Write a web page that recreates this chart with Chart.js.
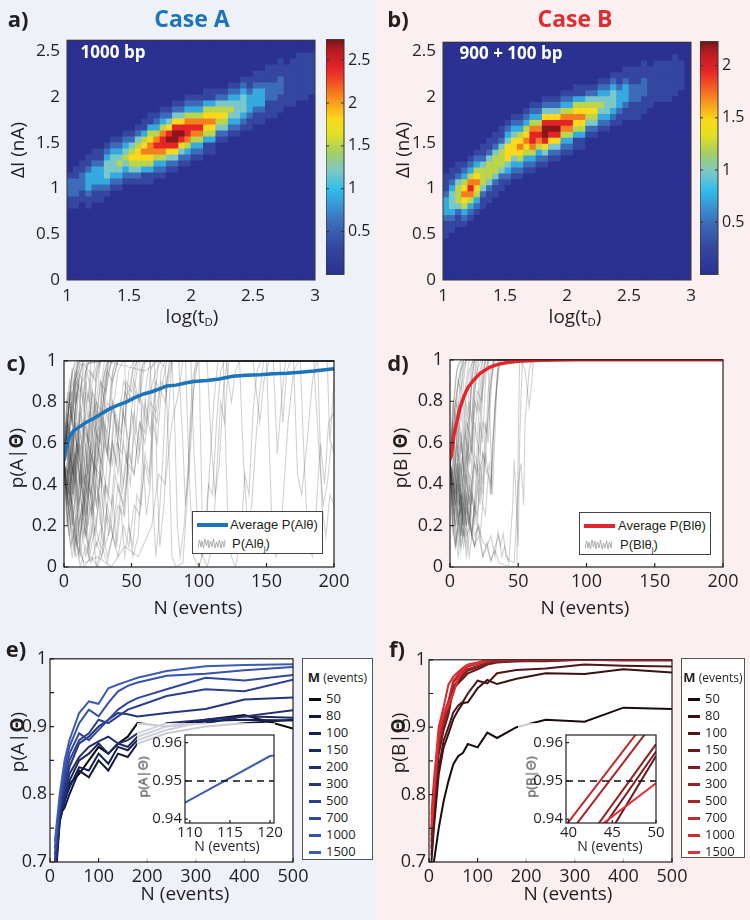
<!DOCTYPE html>
<html lang="en">
<head>
<meta charset="UTF-8">
<meta name="viewport" content="width=device-width, initial-scale=1.0">
<title>Case A vs Case B</title>
<script src="https://cdn.jsdelivr.net/npm/chart.js"></script>
<style>
  html, body { margin: 0; padding: 0; }
  #fig { position: relative; width: 750px; height: 920px; overflow: hidden;
         font-family: 'Open Sans', sans-serif; color: #231f20; }
  .half { position: absolute; top: 0; height: 920px; }
  .t { position: absolute; white-space: nowrap; transform: translate(-50%, -50%); z-index: 5; line-height: 1; }
  .r { transform: translate(-50%, -50%) rotate(-90deg); }
  .tag { font-weight: 700; font-size: 22px; }
  .ttl { font-size: 19px; }
  .leg { position: absolute; box-sizing: border-box; background: #fff; border: 1px solid #444; z-index: 5;
         overflow: hidden; font-family: 'Liberation Sans', Arial, sans-serif; font-size: 13px; }
  .leg div, .leg svg { position: absolute; white-space: nowrap; line-height: 1; }
  .mleg { position: absolute; box-sizing: border-box; background: #fff; border: 1px solid #555; z-index: 5; }
  .mt { position: absolute; left: 0; right: 0; top: 11px; text-align: center; font-size: 12px; line-height: 14px; white-space: nowrap; }
  .mr { position: absolute; left: 6px; height: 16px; line-height: 16px; font-size: 13px; }
  .mr span { display: inline-block; width: 12px; height: 3px; vertical-align: middle; margin-right: 5px; }
  sub { font-size: 0.6em; vertical-align: -0.35em; line-height: 0; }
</style>
</head>
<body>
<div id="fig">
  <div class="half" style="left:0;width:376px;background:#eef1f8"></div>
  <div class="half" style="left:376px;width:374px;background:#fcefef"></div>

  <!-- panel tags and titles -->
  <div class="t tag" style="left:18px;top:18px">a)</div>
  <div class="t tag" style="left:192px;top:18px;color:#1b75bc;font-size:23px">Case A</div>
  <div class="t tag" style="left:398px;top:18px">b)</div>
  <div class="t tag" style="left:575px;top:18px;color:#e22b31;font-size:23px">Case B</div>
  <div class="t tag" style="left:16px;top:362px">c)</div>
  <div class="t tag" style="left:398px;top:362px">d)</div>
  <div class="t tag" style="left:16px;top:648px">e)</div>
  <div class="t tag" style="left:397px;top:648px">f)</div>

  <div class="t" style="left:113px;top:51px;color:#fff;font-weight:700;font-size:17px">1000 bp</div>
  <div class="t" style="left:511px;top:52px;color:#fff;font-weight:700;font-size:17px">900 + 100 bp</div>

  <!-- axis titles -->
  <div class="t ttl r" style="left:17px;top:150px">ΔI (nA)</div>
  <div class="t ttl r" style="left:402px;top:150px">ΔI (nA)</div>
  <div class="t ttl" style="left:192px;top:316px">log(t<sub>D</sub>)</div>
  <div class="t ttl" style="left:575px;top:316px">log(t<sub>D</sub>)</div>
  <div class="t ttl r" style="left:16px;top:458px">p(A|<b>Θ</b>)</div>
  <div class="t ttl r" style="left:400px;top:458px">p(B|<b>Θ</b>)</div>
  <div class="t ttl" style="left:198px;top:607px">N (events)</div>
  <div class="t ttl" style="left:585px;top:607px">N (events)</div>
  <div class="t ttl r" style="left:17px;top:742px">p(A|<b>Θ</b>)</div>
  <div class="t ttl r" style="left:398px;top:743px">p(B|<b>Θ</b>)</div>
  <div class="t ttl" style="left:185px;top:893px">N (events)</div>
  <div class="t ttl" style="left:568px;top:893px">N (events)</div>
  <div class="t r" style="left:143px;top:777px;font-size:13px">p(A|Θ)</div>
  <div class="t r" style="left:531px;top:777px;font-size:13px">p(B|Θ)</div>
  <div class="t" style="left:227px;top:846px;font-size:14px">N (events)</div>
  <div class="t" style="left:610px;top:846px;font-size:14px">N (events)</div>

  <!-- legends of c and d -->
  <div class="leg" style="left:192px;top:511px;width:131px;height:43px">
    <div style="left:4px;top:11px;width:31px;height:4px;background:#1b75bc"></div>
    <div style="left:37px;top:6px">Average P(Alθ)</div>
    <svg style="left:5px;top:26px" width="28" height="11"><polyline points="0,10 1.5,2 3,9 4,3 5.5,10 7,1 8.5,8 10,2 11,10 12.5,3 14,9 15.5,1 17,10 18.5,4 20,9 21.5,2 23,10 24.5,3 26,9 27,2" fill="none" stroke="#9a9a9a" stroke-width="0.8"/></svg>
    <div style="left:39px;top:25px">P(Alθ<sub>j</sub>)</div>
  </div>
  <div class="leg" style="left:579px;top:512px;width:132px;height:43px">
    <div style="left:4px;top:11px;width:31px;height:4px;background:#e3262d"></div>
    <div style="left:38px;top:6px">Average P(Blθ)</div>
    <svg style="left:5px;top:26px" width="28" height="11"><polyline points="0,10 1.5,2 3,9 4,3 5.5,10 7,1 8.5,8 10,2 11,10 12.5,3 14,9 15.5,1 17,10 18.5,4 20,9 21.5,2 23,10 24.5,3 26,9 27,2" fill="none" stroke="#9a9a9a" stroke-width="0.8"/></svg>
    <div style="left:40px;top:25px">P(Blθ<sub>j</sub>)</div>
  </div>
</div>

<script>
// ---- 2D histograms: one entry per log(tD) column (1 -> 3, 40 columns)
// [first ΔI row, level of each row going up], level 0-9
const heatA = [
  [12,"112221"], [12,"1122211"], [13,"1122211"], [12,"112333211"], [13,"112333211"],
  [13,"112333211"], [14,"123444321"], [15,"123444321"], [15,"123454321"], [16,"123454321"],
  [16,"124565421"], [16,"1245665421"], [16,"11356765311"], [16,"113567765311"], [17,"12357875321"],
  [17,"123578875321"], [18,"12468986421"], [18,"124689986421"], [19,"12468986421"], [19,"123578875321"],
  [20,"12357875321"], [20,"12357875321"], [21,"11356765311"], [21,"11356765311"], [23,"124565421"],
  [23,"124565421"], [24,"123454321"], [24,"123444321"], [25,"123444321"], [25,"112333211"],
  [26,"112333211"], [26,"112333211"], [27,"111222111"], [27,"111222111"], [28,"111222111"],
  [29,"1111111"], [29,"11111111"], [30,"11111111"], [30,"11111111"], [31,"1111111"]
];
const heatB = [
  [7,"11123332111"], [8,"11234443211"], [9,"11245554211"], [9,"12356765321"], [10,"12357875321"],
  [11,"12356765321"], [12,"11245554211"], [13,"11245554211"], [14,"11245554211"], [15,"11245554211"],
  [16,"12346664321"], [17,"12346664321"], [17,"12356765321"], [18,"12356765321"], [18,"123578875321"],
  [19,"12357875321"], [19,"124689986421"], [20,"12468986421"], [20,"12468986421"], [21,"12357875321"],
  [21,"12357875321"], [22,"11356765311"], [22,"11356765311"], [24,"124565421"], [24,"124565421"],
  [25,"123454321"], [25,"123444321"], [26,"123444321"], [26,"112333211"], [27,"112333211"],
  [27,"111222111"], [27,"111222111"], [28,"111222111"], [29,"1111111"], [30,"1111111"],
  [30,"1111111"], [30,"1111111"], [31,"1111111"], [32,"11111"], [0,""]
];
const levelStepA = 0.3, levelStepB = 0.245;
const cbarMaxA = 2.74, cbarMaxB = 2.23;
const yMaxA = 2.625, yMaxB = 2.6;

// ---- tick values
const ticksHeatX = [1, 1.5, 2, 2.5, 3];
const ticksHeatY = [0, 0.5, 1, 1.5, 2, 2.5];
const cbarTicksA = [0.5, 1, 1.5, 2, 2.5];
const cbarTicksB = [0.5, 1, 1.5, 2];
const ticksNX = [0, 50, 100, 150, 200];
const ticksPY = [0, 0.2, 0.4, 0.6, 0.8, 1];
const ticksEX = [0, 100, 200, 300, 400, 500];
const ticksEY = [0.7, 0.75, 0.8, 0.85, 0.9, 0.95, 1];
const labelsEY = ['0.7', '', '0.8', '', '0.9', '', '1'];
const insetTicksY = [0.94, 0.95, 0.96];
const insetTicksXA = [110, 115, 120];
const insetTicksXB = [40, 45, 50];
const threshold = 0.95;

// ---- c / d : average posterior
const avgAx = [0, 1, 2, 4, 7, 12, 16, 22, 28, 34, 40, 46, 52, 59, 65, 70, 76, 83, 90, 96, 106, 115, 125, 135, 145, 155, 165, 175, 185, 195, 200];
const avgAy = [0.52, 0.56, 0.59, 0.63, 0.66, 0.682, 0.70, 0.72, 0.745, 0.768, 0.785, 0.80, 0.82, 0.839, 0.85, 0.862, 0.878, 0.882, 0.892, 0.90, 0.905, 0.912, 0.925, 0.93, 0.932, 0.937, 0.94, 0.945, 0.95, 0.958, 0.962];
const avgBx = [0, 1, 2, 3, 5, 7, 10, 13, 17, 22, 29, 35, 42, 50, 66, 90, 200];
const avgBy = [0.52, 0.54, 0.59, 0.64, 0.70, 0.76, 0.82, 0.865, 0.90, 0.935, 0.964, 0.978, 0.987, 0.993, 0.998, 1, 1];

// ---- c / d : single runs, flat [N, p, N, p, ...]
const trajA = [
  [0,.5, 2,.7, 4,.62, 6,.85, 8,.8, 10,.95, 14,.9, 18,.99, 30,1, 200,1],
  [0,.5, 2,.35, 4,.45, 6,.2, 8,.3, 10,.1, 13,.2, 16,.05, 20,.15, 24,.4, 27,.3, 30,.7, 33,.6, 36,.9, 40,1, 200,1],
  [0,.5, 3,.6, 5,.4, 8,.55, 11,.3, 14,.45, 17,.25, 20,.5, 23,.7, 26,.55, 29,.8, 32,.95, 36,.9, 40,1, 200,1],
  [0,.5, 2,.8, 4,.9, 6,.75, 8,.95, 11,1, 120,1, 124,.8, 127,.95, 130,1, 200,1],
  [0,.5, 3,.3, 6,.15, 9,.05, 12,.1, 15,0, 20,.05, 25,0, 30,.1, 35,.2, 38,.1, 42,.35, 45,.25, 48,.6, 50,.5, 53,.85, 56,.8, 58,.98, 62,1, 200,1],
  [0,.5, 2,.6, 4,.8, 6,.7, 9,.9, 12,.85, 15,.98, 22,.92, 25,1, 200,1],
  [0,.5, 3,.45, 6,.65, 9,.5, 12,.75, 15,.65, 18,.4, 21,.55, 24,.3, 27,.45, 30,.2, 33,.35, 36,.6, 39,.5, 42,.8, 45,.7, 48,.95, 52,1, 200,1],
  [0,.5, 2,.25, 5,.1, 8,.2, 11,.05, 14,.3, 17,.2, 20,.55, 23,.45, 26,.75, 29,.7, 32,.9, 35,1, 200,1],
  [0,.5, 4,.8, 8,.9, 12,.98, 30,1, 60,.95, 70,1, 75,.97, 78,.5, 80,.05, 83,0, 88,.02, 91,.3, 94,.7, 97,.95, 100,1, 200,1],
  [0,.5, 3,.7, 6,.6, 9,.75, 12,.55, 15,.7, 18,.85, 21,.7, 24,.9, 27,1, 64,1, 66,.3, 68,.05, 70,.2, 73,.5, 76,.9, 79,1, 200,1],
  [0,.5, 4,.3, 8,.5, 12,.25, 16,.45, 20,.35, 24,.6, 28,.5, 32,.8, 36,.75, 40,.95, 44,1, 100,1, 103,.05, 106,0, 110,.1, 113,.45, 116,.8, 119,.7, 122,1, 200,1],
  [0,.5, 2,.65, 4,.5, 7,.7, 10,.85, 13,.75, 16,.95, 19,1, 45,1, 48,.2, 51,.05, 55,.15, 58,.5, 61,.9, 64,1, 200,1],
  [0,.5, 3,.2, 6,.35, 9,.1, 12,.25, 15,.15, 18,.4, 21,.3, 24,.65, 27,.6, 30,.9, 33,1, 140,1, 145,.7, 148,.9, 152,1, 200,1],
  [0,.5, 2,.8, 5,.7, 8,.9, 11,1, 150,1, 154,.2, 157,.05, 160,.1, 163,.4, 166,.7, 170,.95, 174,1, 200,1],
  [0,.5, 3,.55, 6,.35, 9,.6, 12,.4, 15,.7, 18,.6, 21,.85, 24,.8, 27,1, 85,1, 88,.6, 90,.3, 93,.5, 96,.85, 99,1, 200,1],
  [0,.5, 3,.75, 6,.95, 10,1, 175,1, 178,.5, 181,.1, 184,.05, 187,.3, 190,.6, 193,.4, 196,.7, 200,.75],
  [0,.5, 4,.4, 8,.2, 12,.35, 16,.15, 20,.3, 24,.1, 28,.2, 32,.05, 36,.15, 40,.3, 44,.25, 48,.5, 52,.45, 56,.7, 60,.65, 64,.85, 68,.95, 72,1, 200,1],
  [0,.5, 2,.7, 5,.9, 8,1, 118,1, 121,.3, 124,.05, 127,0, 131,.15, 134,.45, 137,.35, 140,.75, 143,.95, 146,1, 200,1],
  [0,.5, 3,.6, 7,.45, 11,.7, 15,.5, 19,.75, 23,.65, 27,.9, 31,.85, 35,1, 185,1, 189,.55, 192,.3, 195,.4, 198,.6, 200,.55],
  [0,.5, 2,.4, 5,.55, 8,.3, 11,.45, 14,.2, 17,.4, 20,.25, 23,.5, 26,.4, 29,.7, 32,.65, 35,.9, 38,1, 160,1, 162,.7, 165,.95, 168,1, 200,1],
  [0,.5, 3,.85, 6,.7, 9,.95, 12,1, 90,1, 93,.4, 96,.05, 100,0, 104,.1, 107,.4, 110,.35, 113,.7, 116,.95, 119,1, 200,1],
  [0,.5, 3,.3, 7,.5, 11,.2, 15,.35, 19,.05, 23,.2, 27,.1, 31,.4, 35,.3, 39,.6, 43,.55, 47,.85, 51,.8, 55,1, 200,1],
  [0,.5, 2,.6, 5,.75, 8,.65, 11,.9, 14,.8, 17,1, 130,1, 133,.5, 136,.2, 139,.3, 142,.6, 145,.85, 148,1, 200,1],
  [0,.5, 3,.7, 6,.55, 9,.8, 12,.95, 15,1, 195,1, 197,.6, 200,.9],
  [0,.5, 4,.35, 8,.55, 12,.45, 16,.65, 20,.6, 24,.8, 28,.75, 32,.95, 36,1, 200,1],
  [0,.5, 5,.2, 10,.1, 15,.02, 25,.05, 35,0, 45,.1, 55,.05, 65,.2, 70,.45, 75,.4, 80,.7, 85,.85, 88,1, 200,1],
  [0,.5, 3,.45, 6,.3, 10,.5, 14,.35, 18,.6, 22,.5, 26,.45, 30,.6, 34,.5, 38,.75, 42,.65, 46,.9, 50,.85, 54,1, 170,1, 173,.45, 176,.35, 180,.6, 184,.9, 187,1, 200,1],
  [0,.5, 2,.4, 4,.6, 6,.35, 8,.55, 10,.3, 12,.5, 14,.25, 16,.45, 18,.2, 20,.4, 23,.15, 26,.35, 29,.1, 32,.3, 35,.2, 38,.45, 41,.35, 44,.6, 47,.5, 50,.75, 53,.65, 56,.9, 59,1, 200,1],
  [0,.5, 1,.7, 3,.55, 5,.8, 7,.6, 9,.85, 11,.7, 13,.9, 15,.75, 17,.95, 20,.85, 23,1, 200,1],
  [0,.5, 2,.3, 4,.15, 6,.3, 8,.1, 10,.25, 12,.05, 15,.2, 18,.1, 21,.3, 24,.2, 27,.45, 30,.35, 33,.6, 36,.5, 39,.7, 42,.6, 45,.85, 48,.8, 51,.95, 54,1, 200,1],
  [0,.5, 3,.65, 6,.45, 9,.7, 12,.5, 15,.3, 18,.5, 21,.25, 24,.45, 27,.2, 30,.4, 33,.15, 36,.35, 39,.1, 42,.3, 45,.05, 48,.2, 51,.1, 54,.35, 57,.3, 60,.55, 63,.45, 66,.75, 69,.7, 72,.95, 75,1, 200,1],
  [0,.5, 2,.75, 4,.6, 6,.85, 8,.7, 10,.55, 12,.8, 14,.65, 16,.9, 18,.8, 20,1, 200,1],
  [0,.5, 3,.35, 6,.5, 9,.3, 12,.15, 15,.3, 18,.05, 21,.2, 24,0, 28,.1, 32,.02, 36,.15, 40,.05, 44,.2, 48,.1, 52,.3, 56,.25, 60,.5, 63,.4, 66,.7, 69,.6, 72,.85, 75,.8, 78,1, 200,1],
  [0,.5, 2,.6, 4,.45, 6,.65, 8,.4, 10,.6, 12,.35, 14,.55, 16,.75, 18,.6, 20,.85, 22,.7, 24,.95, 27,1, 200,1],
  [0,.5, 4,.25, 8,.45, 12,.2, 16,.4, 20,.6, 24,.45, 28,.7, 32,.55, 36,.8, 40,.65, 44,.9, 48,.85, 52,1, 80,1, 82,.7, 84,.2, 86,.05, 89,.2, 92,.5, 95,.9, 98,1, 200,1],
  [0,.5, 2,.45, 4,.7, 6,.5, 8,.75, 10,.9, 12,.8, 14,1, 67,1, 69,.4, 71,.1, 74,.3, 77,.7, 80,1, 200,1],
  [0,.5, 3,.2, 6,.05, 9,.15, 12,0, 16,.1, 20,.02, 24,.12, 28,.05, 32,.25, 36,.15, 40,.4, 44,.3, 48,.55, 52,.45, 56,.7, 60,.6, 64,.8, 68,.75, 72,.9, 76,.85, 80,1, 200,1],
  [0,.5, 2,.55, 4,.35, 6,.6, 8,.45, 10,.7, 12,.55, 14,.4, 16,.6, 18,.45, 20,.7, 22,.55, 24,.8, 26,.7, 28,.9, 30,1, 200,1],
  [0,.5, 3,.4, 6,.2, 9,.4, 12,.6, 15,.4, 18,.65, 21,.85, 24,.7, 27,.9, 30,.8, 33,1, 94,1, 96,.6, 99,.2, 102,.05, 105,.15, 108,.5, 111,.8, 114,1, 200,1],
  [0,.5, 2,.65, 4,.8, 6,.95, 8,.85, 10,1, 56,1, 58,.6, 61,.25, 64,.4, 67,.8, 70,1, 200,1],
  [0,.5, 4,.45, 8,.65, 12,.5, 16,.7, 20,.5, 24,.3, 28,.5, 32,.35, 36,.6, 40,.45, 44,.75, 48,.6, 52,.9, 56,.8, 60,1, 200,1],
  [0,.5, 2,.3, 4,.5, 6,.25, 8,.05, 10,.2, 12,.1, 14,.3, 16,.15, 18,.35, 20,.6, 22,.45, 24,.7, 26,.6, 28,.85, 30,.95, 33,1, 200,1],
  [0,.5, 3,.75, 6,.9, 9,.8, 12,1, 106,1, 109,.6, 112,.35, 115,.5, 118,.85, 121,1, 200,1],
  [0,.5, 2,.35, 4,.55, 7,.35, 10,.6, 13,.45, 16,.25, 19,.45, 22,.3, 25,.55, 28,.4, 31,.65, 34,.5, 37,.75, 40,.6, 43,.35, 46,.55, 49,.4, 52,.65, 55,.5, 58,.8, 61,.7, 64,.95, 67,1, 200,1],
  [0,.5, 2,.6, 4,.85, 6,.7, 8,.95, 11,.9, 14,1, 200,1],
  [0,.5, 3,.3, 6,.1, 9,.25, 12,.45, 15,.3, 18,.55, 21,.4, 24,.65, 27,.5, 30,.8, 33,.7, 36,.95, 40,1, 155,1, 158,.55, 161,.8, 164,1, 200,1],
  [0,.5, 2,.5, 4,.3, 6,.5, 8,.7, 10,.5, 12,.75, 14,.6, 16,.85, 18,.7, 20,.95, 23,.9, 26,1, 188,1, 191,.3, 194,.15, 197,.35, 200,.3],
  [0,.5, 4,.6, 8,.4, 12,.65, 16,.45, 20,.7, 24,.5, 28,.75, 32,.55, 36,.8, 40,.6, 44,.4, 48,.6, 52,.75, 56,.55, 60,.8, 64,.65, 68,.9, 72,.85, 76,1, 200,1],
  [0,.5, 2,.2, 5,.35, 8,.15, 11,.3, 14,.5, 17,.35, 20,.6, 23,.8, 26,.65, 29,.9, 32,1, 200,1]
];
const trajB = [
  [0,.5, 2,.75, 4,.9, 6,.98, 9,1, 200,1],
  [0,.5, 2,.3, 4,.45, 6,.2, 8,.4, 10,.6, 12,.85, 14,.95, 17,1, 200,1],
  [0,.5, 2,.6, 4,.4, 6,.55, 8,.3, 10,.5, 12,.7, 14,.65, 16,.9, 18,1, 200,1],
  [0,.5, 2,.2, 4,.1, 6,.25, 8,.15, 10,.4, 12,.3, 14,.6, 16,.55, 18,.85, 20,.95, 23,1, 200,1],
  [0,.5, 3,.8, 5,.95, 8,1, 200,1],
  [0,.5, 2,.4, 4,.2, 6,.3, 8,.1, 10,.2, 12,.05, 14,.15, 16,.35, 18,.3, 20,.6, 22,.55, 24,.85, 26,.95, 28,1, 200,1],
  [0,.5, 2,.65, 4,.55, 6,.8, 8,.7, 10,.9, 12,1, 200,1],
  [0,.5, 3,.7, 6,.9, 9,1, 28,1, 30,.55, 31,.35, 33,.65, 35,1, 200,1],
  [0,.5, 3,.35, 6,.25, 9,.3, 12,.15, 15,.2, 18,.1, 21,.15, 24,.05, 27,.1, 30,.03, 33,.08, 36,.02, 40,.01, 45,0, 49,0, 50,.6, 51,1, 200,1],
  [0,.5, 3,.4, 6,.3, 9,.35, 12,.2, 15,.3, 18,.15, 21,.2, 24,.12, 27,.1, 30,.15, 33,.05, 35,.17, 37,.1, 39,.16, 41,.05, 44,.03, 47,.02, 50,.4, 52,.5, 54,.3, 55,.7, 58,.95, 60,1, 200,1],
  [0,.5, 2,.7, 5,.85, 8,.95, 12,1, 52,1, 55,.95, 58,.77, 60,.9, 61,1, 200,1],
  [0,.5, 3,.45, 6,.6, 9,.4, 12,.55, 15,.35, 18,.5, 21,.4, 24,.55, 27,.45, 29,.5, 30,.35, 31,.6, 34,.85, 37,1, 200,1],
  [0,.5, 2,.55, 4,.35, 6,.5, 8,.25, 10,.45, 12,.2, 14,.35, 16,.15, 18,.3, 20,.45, 22,.7, 24,.6, 26,.9, 28,1, 200,1],
  [0,.5, 2,.8, 4,.7, 6,.9, 8,.85, 10,1, 200,1],
  [0,.5, 2,.35, 4,.5, 6,.3, 8,.6, 10,.5, 12,.75, 14,.7, 16,.95, 18,1, 200,1],
  [0,.5, 2,.45, 4,.25, 6,.4, 8,.2, 10,.35, 12,.25, 14,.45, 16,.4, 18,.6, 20,.8, 22,.75, 24,.95, 26,1, 200,1],
  [0,.5, 3,.6, 5,.45, 7,.7, 9,.55, 11,.8, 13,.75, 15,.95, 17,1, 200,1],
  [0,.5, 2,.3, 4,.2, 6,.1, 8,.2, 10,.15, 12,.3, 14,.2, 16,.35, 18,.25, 20,.4, 22,.3, 24,.55, 26,.5, 28,.75, 30,.9, 32,1, 200,1],
  [0,.5, 2,.65, 4,.8, 6,.75, 8,.95, 10,1, 200,1],
  [0,.5, 3,.3, 6,.45, 9,.25, 12,.4, 15,.3, 18,.55, 21,.45, 24,.7, 27,.65, 30,.9, 33,1, 200,1],
  [0,.5, 2,.4, 5,.6, 8,.45, 11,.65, 14,.5, 17,.7, 20,.85, 23,.8, 26,1, 200,1],
  [0,.5, 2,.2, 4,.3, 6,.15, 8,.25, 10,.1, 12,.2, 14,.05, 16,.15, 18,.1, 20,.2, 22,.15, 24,.3, 26,.25, 28,.45, 30,.4, 32,.65, 34,.85, 36,1, 200,1],
  [0,.5, 1,.3, 2,.15, 3,.25, 4,.1, 6,.2, 8,.3, 10,.2, 12,.45, 14,.7, 16,.9, 18,1, 200,1],
  [0,.5, 1,.6, 2,.45, 4,.3, 6,.45, 8,.25, 10,.5, 12,.4, 14,.65, 16,.55, 18,.8, 20,.75, 22,.95, 24,1, 200,1],
  [0,.5, 2,.25, 4,.4, 6,.2, 8,.35, 10,.15, 12,.3, 14,.2, 16,.4, 18,.2, 20,.35, 22,.5, 24,.4, 26,.7, 28,.6, 30,.85, 32,1, 200,1],
  [0,.5, 2,.7, 4,.5, 6,.7, 8,.55, 10,.8, 12,.9, 14,1, 200,1],
  [0,.5, 2,.35, 4,.2, 6,.35, 8,.15, 10,.3, 12,.45, 14,.3, 16,.5, 18,.7, 20,.6, 22,.85, 24,1, 200,1],
  [0,.5, 1,.4, 3,.55, 5,.35, 7,.5, 9,.3, 11,.45, 13,.6, 15,.5, 17,.75, 19,.9, 21,1, 200,1],
  [0,.5, 2,.3, 4,.15, 6,.05, 8,.15, 10,.3, 12,.2, 14,.4, 16,.3, 18,.5, 20,.45, 22,.7, 24,.9, 26,1, 200,1],
  [0,.5, 2,.6, 4,.75, 6,.6, 8,.85, 10,.95, 12,1, 200,1],
  [0,.5, 2,.45, 4,.3, 6,.5, 8,.35, 10,.2, 12,.35, 14,.25, 16,.15, 18,.3, 20,.2, 22,.45, 24,.35, 26,.6, 28,.85, 30,.95, 32,1, 200,1],
  [0,.5, 3,.35, 5,.5, 7,.3, 9,.55, 11,.4, 13,.7, 15,.6, 17,.85, 19,1, 200,1],
  [0,.5, 2,.2, 4,.1, 6,.2, 8,.08, 10,.18, 12,.1, 14,.25, 16,.15, 18,.3, 20,.25, 22,.4, 24,.3, 26,.55, 28,.45, 30,.35, 31,.5, 33,.8, 35,.95, 38,1, 200,1],
  [0,.5, 2,.55, 4,.7, 6,.5, 8,.65, 10,.45, 12,.6, 14,.8, 16,.7, 18,.9, 20,1, 200,1],
  [0,.5, 3,.25, 6,.4, 9,.2, 12,.35, 15,.18, 18,.1, 21,.2, 24,.05, 27,.12, 30,.03, 33,.1, 36,.15, 38,.05, 40,.1, 43,.02, 46,.3, 47,.52, 49,.25, 50,.1, 51,.6, 53,1, 200,1]
];

// ---- e / f : posterior vs N for each training size M
const mLabels = ['50', '80', '100', '150', '200', '300', '500', '700', '1000', '1500'];
const nE = [10, 20, 30, 40, 60, 80, 100, 120, 140, 160, 180, 240, 320, 400, 500];
const pE = [
  [0.66, 0.76, 0.79, 0.815, 0.83, 0.85, 0.87, 0.86, 0.875, 0.885, 0.905, 0.90, 0.91, 0.917, 0.897],
  [0.67, 0.77, 0.78, 0.80, 0.835, 0.825, 0.85, 0.835, 0.86, 0.855, 0.875, 0.89, 0.90, 0.905, 0.91],
  [0.68, 0.76, 0.79, 0.81, 0.84, 0.835, 0.86, 0.845, 0.87, 0.865, 0.88, 0.895, 0.908, 0.91, 0.909],
  [0.68, 0.77, 0.79, 0.82, 0.85, 0.86, 0.875, 0.86, 0.875, 0.87, 0.885, 0.90, 0.905, 0.915, 0.913],
  [0.69, 0.77, 0.80, 0.83, 0.855, 0.87, 0.878, 0.885, 0.875, 0.88, 0.89, 0.905, 0.91, 0.915, 0.924],
  [0.69, 0.78, 0.81, 0.84, 0.875, 0.885, 0.90, 0.91, 0.92, 0.918, 0.915, 0.92, 0.926, 0.94, 0.943],
  [0.70, 0.78, 0.82, 0.85, 0.88, 0.89, 0.91, 0.905, 0.915, 0.925, 0.93, 0.945, 0.955, 0.952, 0.969],
  [0.71, 0.79, 0.83, 0.86, 0.89, 0.88, 0.895, 0.91, 0.925, 0.935, 0.942, 0.955, 0.972, 0.968, 0.976],
  [0.72, 0.79, 0.84, 0.87, 0.905, 0.925, 0.915, 0.935, 0.952, 0.96, 0.965, 0.975, 0.978, 0.983, 0.988],
  [0.73, 0.80, 0.85, 0.88, 0.92, 0.937, 0.9335, 0.9565, 0.962, 0.967, 0.972, 0.982, 0.989, 0.991, 0.992]
];
const nF = [5, 10, 20, 30, 40, 50, 60, 70, 80, 100, 120, 140, 180, 240, 320, 400, 500];
const pF = [
  [0.62, 0.70, 0.75, 0.79, 0.82, 0.845, 0.857, 0.862, 0.875, 0.870, 0.892, 0.884, 0.900, 0.911, 0.908, 0.929, 0.927],
  [0.70, 0.75, 0.83, 0.87, 0.89, 0.912, 0.925, 0.936, 0.937, 0.958, 0.970, 0.964, 0.972, 0.980, 0.979, 0.986, 0.981],
  [0.71, 0.76, 0.84, 0.88, 0.90, 0.922, 0.932, 0.938, 0.950, 0.969, 0.965, 0.980, 0.985, 0.987, 0.993, 0.991, 0.990],
  [0.72, 0.78, 0.86, 0.895, 0.9187, 0.9565, 0.965, 0.972, 0.980, 0.986, 0.993, 0.996, 0.998, 0.998, 1.0, 0.999, 0.999],
  [0.73, 0.79, 0.87, 0.90, 0.925, 0.9577, 0.968, 0.976, 0.984, 0.989, 0.995, 0.997, 0.998, 0.999, 1.0, 1.0, 1.0],
  [0.74, 0.80, 0.875, 0.905, 0.928, 0.9596, 0.970, 0.979, 0.986, 0.991, 0.996, 0.998, 0.999, 1.0, 1.0, 1.0, 1.0],
  [0.75, 0.80, 0.88, 0.91, 0.936, 0.966, 0.975, 0.983, 0.990, 0.994, 0.998, 0.999, 1.0, 1.0, 1.0, 1.0, 1.0],
  [0.76, 0.81, 0.89, 0.92, 0.9393, 0.969, 0.978, 0.986, 0.992, 0.995, 0.999, 1.0, 1.0, 1.0, 1.0, 1.0, 1.0],
  [0.77, 0.82, 0.90, 0.93, 0.963, 0.975, 0.982, 0.988, 0.993, 0.996, 1.0, 1.0, 1.0, 1.0, 1.0, 1.0, 1.0],
  [0.75, 0.80, 0.89, 0.92, 0.932, 0.9494, 0.972, 0.985, 0.992, 0.995, 0.999, 1.0, 1.0, 1.0, 1.0, 1.0, 1.0]
];

// ---------------- styling ----------------
const colE = ['#0b0b12', '#121a38', '#172050', '#1b275f', '#202e70', '#24367f', '#2a3f90', '#30489e', '#3652aa', '#3c5cb6'];
const colF = ['#1a0a0b', '#3b1213', '#4f1517', '#651a1c', '#7b1e21', '#922326', '#a8262b', '#be2a2f', '#d22c31', '#e42e33'];
const BLUE = '#1b75bc', RED = '#e3262d', GREY = 'rgba(45,45,45,0.22)';
const NAVY = '#2a3190';
const CMAP = [[0, '#2a3190'], [0.12, '#3548a0'], [0.22, '#3c6cb8'], [0.30, '#3a98d6'], [0.36, '#2ebdec'],
  [0.44, '#7cc8c8'], [0.52, '#a5ce62'], [0.60, '#e3e024'], [0.66, '#fbd91c'], [0.74, '#f7981d'],
  [0.82, '#f04e23'], [0.88, '#e42228'], [0.95, '#b81d23'], [1, '#7a1517']];

Chart.defaults.font.family = "'Open Sans', sans-serif";
Chart.defaults.color = '#231f20';

const hexRgb = h => [1, 3, 5].map(i => parseInt(h.substr(i, 2), 16));
const CM = CMAP.map(([p, h]) => [p, hexRgb(h)]);
function cmap(t) {
  t = Math.max(0, Math.min(1, t));
  for (let i = 1; i < CM.length; i++) {
    if (t <= CM[i][0]) {
      const [p0, c0] = CM[i - 1], [p1, c1] = CM[i];
      const f = (t - p0) / (p1 - p0);
      return 'rgb(' + c0.map((v, k) => Math.round(v + (c1[k] - v) * f)).join(',') + ')';
    }
  }
  return CMAP[CMAP.length - 1][1];
}

// plot-area background (and optional half-transparent margin for the insets)
const plotBg = {
  id: 'plotBg',
  beforeDraw(chart, args, o) {
    const { ctx, chartArea: a } = chart;
    ctx.save();
    if (o.outer) { ctx.fillStyle = o.outer; ctx.fillRect(0, 0, a.right + 1, chart.height); }
    if (o.inner) { ctx.fillStyle = o.inner; ctx.fillRect(a.left, a.top, a.width, a.height); }
    ctx.restore();
  }
};
// matlab style box with inward ticks
const frame = {
  id: 'frame',
  afterDraw(chart, args, o) {
    if (o.off) return;
    const { ctx, chartArea: a, scales } = chart;
    ctx.save();
    ctx.strokeStyle = o.color || '#231f20';
    ctx.lineWidth = o.width || 1.2;
    const len = o.tick || 0;
    if (len) {
      ctx.beginPath();
      Object.values(scales).forEach(s => {
        if (!s.options.display) return;
        s.ticks.forEach(t => {
          const v = s.getPixelForValue(t.value);
          if (s.isHorizontal()) { ctx.moveTo(v, a.bottom); ctx.lineTo(v, a.bottom - len); }
          else {
            ctx.moveTo(a.left, v); ctx.lineTo(a.left + len, v);
            if (o.both) { ctx.moveTo(a.right, v); ctx.lineTo(a.right - len, v); }
          }
        });
      });
      ctx.stroke();
    }
    ctx.strokeRect(a.left, a.top, a.width, a.height);
    ctx.restore();
  }
};
// colour bar gradient
const cbarFill = {
  id: 'cbarFill',
  beforeDatasetsDraw(chart) {
    const { ctx, chartArea: a } = chart;
    const g = ctx.createLinearGradient(0, a.bottom, 0, a.top);
    CMAP.forEach(([p, h]) => g.addColorStop(p, h));
    ctx.save(); ctx.fillStyle = g; ctx.fillRect(a.left, a.top, a.width, a.height); ctx.restore();
  }
};
Chart.register(plotBg, frame);

const fig = document.getElementById('fig');
function mount(a, p) {
  const d = document.createElement('div');
  d.style.cssText = `position:absolute;left:${a.l - p.l}px;top:${a.t - p.t}px;` +
    `width:${a.r - a.l + p.l + p.r}px;height:${a.b - a.t + p.t + p.b}px;`;
  const c = document.createElement('canvas');
  d.appendChild(c);
  fig.appendChild(d);
  return c;
}

const fmt = v => String(+(+v).toFixed(3));
function axis(min, max, ticks, o) {
  return {
    type: 'linear', min, max,
    display: o.display !== false,
    position: o.position,
    grid: { display: false, drawTicks: false },
    border: { display: false },
    afterBuildTicks: s => { s.ticks = ticks.map(v => ({ value: v })); },
    afterFit: o.fit,
    ticks: {
      padding: o.pad, font: { size: o.size }, color: '#231f20', autoSkip: false, maxRotation: 0,
      callback: o.labels ? (v, i) => o.labels[i] : v => fmt(v)
    }
  };
}
function opts(p, x, y, plug) {
  return {
    responsive: true, maintainAspectRatio: false, animation: false, events: [],
    layout: { padding: { left: 0, top: p.t, right: p.r, bottom: 0 } },
    plugins: Object.assign({ legend: { display: false }, tooltip: { enabled: false } }, plug),
    scales: { x, y }
  };
}
const pairs = a => { const out = []; for (let i = 0; i < a.length; i += 2) out.push({ x: a[i], y: a[i + 1] }); return out; };
const zip = (xs, ys) => xs.map((x, i) => ({ x, y: ys[i] }));
const line = (data, color, w, extra) => Object.assign({ data, borderColor: color, backgroundColor: color,
  borderWidth: w, pointRadius: 0, showLine: true, tension: 0 }, extra);

// ---------------- heat maps ----------------
function heatChart(area, cols, yMax, step, vmax) {
  const rows = 40, colW = 2 / cols.length, rowH = yMax / rows;
  const pts = [];
  cols.forEach(([start, lv], i) => {
    for (let j = 0; j < rows; j++) {
      const k = j - start;
      const L = (k >= 0 && k < lv.length) ? +lv[k] : 0;
      pts.push({ x: 1 + (i + 0.5) * colW, y: (j + 0.5) * rowH, v: L * step });
    }
  });
  const p = { l: area.l - 7 < 60 ? area.l - 7 : 60, t: 12, r: 12, b: 30 };
  new Chart(mount(area, p), {
    type: 'scatter',
    data: { datasets: [{
      data: pts, pointStyle: 'rect', borderWidth: 0, clip: 0,
      backgroundColor: c => cmap(c.raw.v / vmax),
      radius: c => {
        const xs = c.chart.scales.x, ys = c.chart.scales.y;
        const w = Math.abs(xs.getPixelForValue(1 + colW) - xs.getPixelForValue(1));
        const h = Math.abs(ys.getPixelForValue(rowH) - ys.getPixelForValue(0));
        return (Math.max(w, h) + 0.6) / Math.SQRT2;
      }
    }] },
    options: opts(p,
      axis(1, 3, ticksHeatX, { pad: 6, size: 17, fit: s => { s.height = p.b; } }),
      axis(0, yMax, ticksHeatY, { pad: 7, size: 17, fit: s => { s.width = p.l; } }),
      { plotBg: { inner: NAVY }, frame: { color: '#333', width: 1 } })
  });
}
function colorbar(area, vmax, ticks) {
  const p = { l: 0, t: 10, r: 36, b: 10 };
  const o = opts(p,
    axis(0, 1, [], { display: false }),
    axis(0, vmax, ticks, { position: 'right', pad: 4, size: 16, fit: s => { s.width = p.r; } }),
    { frame: { tick: 3, both: true, color: '#333', width: 1 } });
  o.layout.padding = { left: 0, top: p.t, right: 0, bottom: p.b };
  new Chart(mount(area, p), { type: 'scatter', data: { datasets: [] }, options: o, plugins: [cbarFill] });
}

heatChart({ l: 67, t: 35, r: 315, b: 280 }, heatA, yMaxA, levelStepA, cbarMaxA);
colorbar({ l: 326, t: 36, r: 344, b: 278 }, cbarMaxA, cbarTicksA);
heatChart({ l: 443, t: 37, r: 691, b: 280 }, heatB, yMaxB, levelStepB, cbarMaxB);
colorbar({ l: 700, t: 38, r: 718, b: 278 }, cbarMaxB, cbarTicksB);

// ---------------- c / d ----------------
function runsChart(area, traj, ax, ay, color) {
  const p = { l: 58, t: 12, r: 22, b: 30 };
  const sets = [line(zip(ax, ay), color, 3.5)].concat(traj.map(t => line(pairs(t), GREY, 1.1)));
  new Chart(mount(area, p), {
    type: 'scatter',
    data: { datasets: sets },
    options: opts(p,
      axis(0, 200, ticksNX, { pad: 4, size: 18, fit: s => { s.height = p.b; } }),
      axis(0, 1, ticksPY, { pad: 7, size: 18, fit: s => { s.width = p.l; } }),
      { plotBg: { inner: '#fff' }, frame: { tick: 4 } })
  });
}
runsChart({ l: 64, t: 355, r: 334, b: 567 }, trajA, avgAx, avgAy, BLUE);
runsChart({ l: 450, t: 354, r: 723, b: 567 }, trajB, avgBx, avgBy, RED);

// ---------------- e / f ----------------
function mChart(area, ns, ps, cols) {
  const p = { l: 48, t: 12, r: 20, b: 28 };
  const sets = ps.map((ys, k) => line(zip(ns, ys), cols[k], 2)).reverse();
  new Chart(mount(area, p), {
    type: 'scatter',
    data: { datasets: sets },
    options: opts(p,
      axis(0, 500, ticksEX, { pad: 4, size: 18, fit: s => { s.height = p.b; } }),
      axis(0.7, 1, ticksEY, { pad: 3, size: 18, labels: labelsEY, fit: s => { s.width = p.l; } }),
      { plotBg: { inner: '#fff' }, frame: { tick: 4 } })
  });
}
function insetChart(area, ns, ps, cols, xMin, xMax, xTicks) {
  const p = { l: 48, t: 6, r: 14, b: 38 };
  const sets = [line([{ x: xMin, y: threshold }, { x: xMax, y: threshold }], '#111', 1.5, { borderDash: [7, 5] })]
    .concat(ps.map((ys, k) => line(zip(ns, ys), cols[k], 2)).reverse());
  new Chart(mount(area, p), {
    type: 'scatter',
    data: { datasets: sets },
    options: opts(p,
      axis(xMin, xMax, xTicks, { pad: 1, size: 15, fit: s => { s.height = p.b; } }),
      axis(0.939, 0.962, insetTicksY, { pad: 3, size: 15, fit: s => { s.width = p.l; } }),
      { plotBg: { outer: 'rgba(255,255,255,0.78)', inner: '#fff' }, frame: { tick: 3 } })
  });
}
function mLegend(left, top, w, h, cols) {
  const box = document.createElement('div');
  box.className = 'mleg';
  box.style.cssText = `left:${left}px;top:${top}px;width:${w}px;height:${h}px`;
  let html = '<div class="mt"><b style="font-size:13px">M</b> (events)</div>';
  mLabels.forEach((m, k) => {
    html += `<div class="mr" style="top:${31 + 17 * k}px"><span style="background:${cols[k]}"></span>${m}</div>`;
  });
  box.innerHTML = html;
  fig.appendChild(box);
}

mChart({ l: 50, t: 657, r: 293, b: 862 }, nE, pE, colE);
insetChart({ l: 185, t: 729, r: 274, b: 823 }, nE, pE, colE, 109.4, 120.5, insetTicksXA);
mLegend(302, 658, 71, 202, colE);
mChart({ l: 429, t: 658, r: 672, b: 862 }, nF, pF, colF);
insetChart({ l: 566, t: 729, r: 656, b: 823 }, nF, pF, colF, 39.7, 50, insetTicksXB);
mLegend(681, 658, 64, 200, colF);
</script>
</body>
</html>
